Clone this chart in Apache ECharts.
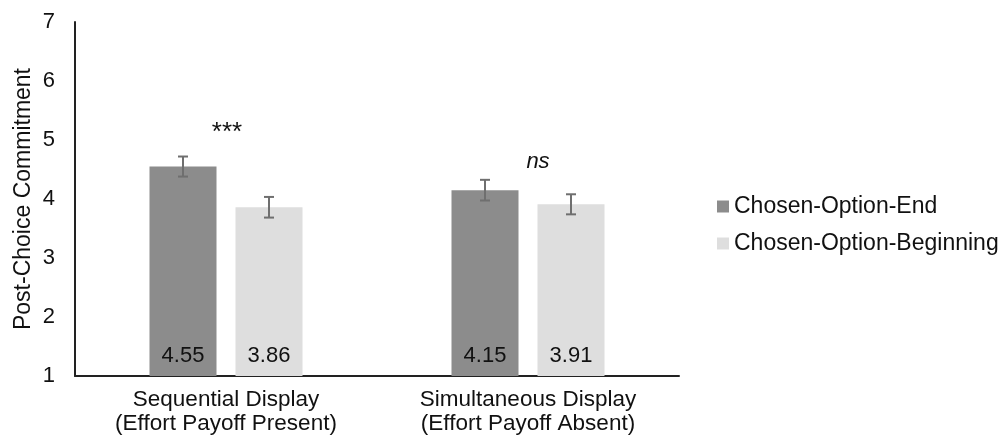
<!DOCTYPE html>
<html>
<head>
<meta charset="utf-8">
<script src="https://cdn.jsdelivr.net/npm/echarts@6/dist/echarts.min.js"></script>
<style>
html,body{margin:0;padding:0;background:#fff;}
#chart{width:1003px;height:442px;}
</style>
</head>
<body>
<div id="chart"></div>
<script>
var categories = ['Sequential Display\n(Effort Payoff Present)', 'Simultaneous Display\n(Effort Payoff Absent)'];
var seriesNames = ['Chosen-Option-End', 'Chosen-Option-Beginning'];
var endValues = [4.55, 4.15];
var beginningValues = [3.86, 3.91];
var endErrors = [0.17, 0.175];
var beginningErrors = [0.175, 0.17];
var annotations = ['***', 'ns'];
var annotationY = [5.17, 4.63];
var yTicks = [1, 2, 3, 4, 5, 6, 7];

var FONT = "'Liberation Sans', Arial, sans-serif";
var darkColor = '#8c8c8c';
var lightColor = '#dedede';
var BAR_W = 67, BAR_GAP = 19;

function errorSeries(values, errors, seriesIdx) {
  return {
    type: 'custom',
    z: 10,
    data: values.map(function (v, i) { return [i, v - errors[i], v + errors[i]]; }),
    renderItem: function (params, api) {
      var c = api.value(0);
      var lo = api.coord([c, api.value(1)]);
      var hi = api.coord([c, api.value(2)]);
      var off = (seriesIdx === 0 ? -1 : 1) * (BAR_W + BAR_GAP) / 2;
      var x = lo[0] + off;
      var cap = 5;
      var st = { stroke: '#6f6f6f', lineWidth: 2 };
      return {
        type: 'group',
        children: [
          { type: 'line', shape: { x1: x, y1: lo[1], x2: x, y2: hi[1] }, style: st },
          { type: 'line', shape: { x1: x - cap, y1: lo[1], x2: x + cap, y2: lo[1] }, style: st },
          { type: 'line', shape: { x1: x - cap, y1: hi[1], x2: x + cap, y2: hi[1] }, style: st }
        ]
      };
    }
  };
}

var chart = echarts.init(document.getElementById('chart'));
chart.setOption({
  animation: false,
  backgroundColor: '#fff',
  grid: { left: 75, right: 324, top: 22, bottom: 66 },
  legend: {
    orient: 'vertical',
    left: 712,
    top: 190,
    itemWidth: 12,
    itemHeight: 12,
    itemGap: 14,
    icon: 'rect',
    textStyle: { fontFamily: FONT, fontSize: 23, color: '#111' },
    data: seriesNames
  },
  xAxis: {
    type: 'category',
    data: categories,
    axisLine: { lineStyle: { color: '#222', width: 2 } },
    axisTick: { show: false },
    axisLabel: { fontFamily: FONT, fontSize: 22.5, color: '#111', lineHeight: 24, margin: 12 }
  },
  yAxis: {
    type: 'value',
    min: yTicks[0],
    max: yTicks[yTicks.length - 1],
    interval: 1,
    name: 'Post-Choice Commitment',
    nameLocation: 'middle',
    nameGap: 40,
    nameMoveOverlap: false,
    nameTextStyle: { fontFamily: FONT, fontSize: 23, color: '#111' },
    axisLine: { show: true, lineStyle: { color: '#222', width: 2 } },
    axisTick: { show: false },
    splitLine: { show: false },
    axisLabel: { fontFamily: FONT, fontSize: 22, color: '#111', margin: 20 }
  },
  series: [
    {
      name: seriesNames[0], type: 'bar', data: endValues,
      barWidth: BAR_W, barGap: (BAR_GAP / BAR_W * 100) + '%',
      itemStyle: { color: darkColor },
      label: { show: true, position: 'insideBottom', distance: 9, fontFamily: FONT, fontSize: 22, color: '#111',
        formatter: function (p) { return p.value.toFixed(2); } }
    },
    {
      name: seriesNames[1], type: 'bar', data: beginningValues,
      barWidth: BAR_W,
      itemStyle: { color: lightColor },
      label: { show: true, position: 'insideBottom', distance: 9, fontFamily: FONT, fontSize: 22, color: '#111',
        formatter: function (p) { return p.value.toFixed(2); } }
    },
    errorSeries(endValues, endErrors, 0),
    errorSeries(beginningValues, beginningErrors, 1),
    {
      type: 'custom',
      z: 11,
      data: annotations.map(function (t, i) { return [i, annotationY[i]]; }),
      renderItem: function (params, api) {
        var p = api.coord([api.value(0), api.value(1)]);
        var i = params.dataIndex;
        return {
          type: 'text',
          style: {
            x: p[0] + (i === 1 ? 10 : 1), y: p[1] + (i === 0 ? 3 : 0),
            text: annotations[i],
            textAlign: 'center', textVerticalAlign: 'middle',
            font: (i === 1 ? 'italic ' : '') + (i === 0 ? '26px ' : '22px ') + FONT,
            fill: '#111'
          }
        };
      }
    }
  ]
});
</script>
</body>
</html>
